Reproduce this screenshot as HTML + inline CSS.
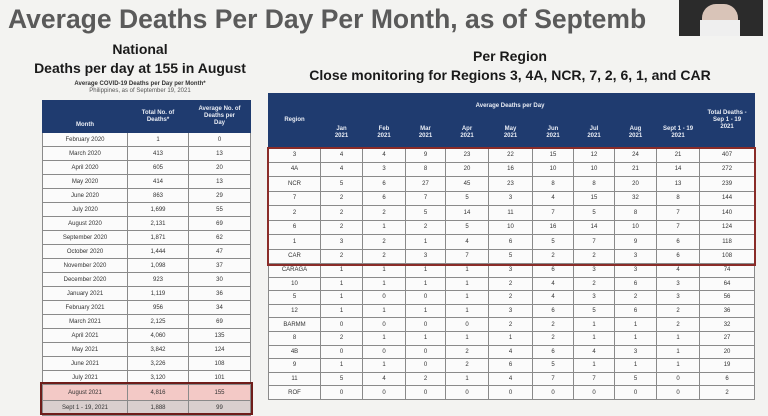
<!DOCTYPE html>
<html><head><meta charset="utf-8"><style>
*{margin:0;padding:0;box-sizing:border-box}
body{width:768px;height:416px;overflow:hidden;background:#f3f3f1;font-family:"Liberation Sans",Arial,sans-serif;position:relative;color:#222}
.a{position:absolute;white-space:nowrap}
table{position:absolute;border-collapse:collapse;table-layout:fixed}
td,th{text-align:center;font-size:6px;border:1px solid #8a8a8a;padding:0;overflow:hidden;white-space:nowrap}
th{background:#1f3b6f;color:#e8ecf4;font-weight:bold;border-color:#1f3b6f;line-height:7px}
td{background:#fbfbfb;color:#333}
</style></head><body>
<div class="a" style="left:8px;top:4px;font-size:26.5px;font-weight:bold;color:#5a5a5a;">Average Deaths Per Day Per Month, as of Septemb</div>
<div class="a" style="left:679px;top:0;width:84px;height:36px;background:#2b2b2b"></div>
<div class="a" style="left:702px;top:4px;width:36px;height:32px;background:#d9c4b8;border-radius:14px 14px 0 0"></div>
<div class="a" style="left:700px;top:20px;width:40px;height:16px;background:#efefef"></div>
<div class="a" style="left:17px;top:40px;width:246px;text-align:center;font-size:14px;font-weight:bold;color:#1a1a1a;line-height:19px">National<br>Deaths per day at 155 in August</div>
<div class="a" style="left:17px;top:81px;width:246px;text-align:center;font-size:6px;font-weight:bold;color:#333">Average COVID-19 Deaths per Day per Month*</div>
<div class="a" style="left:17px;top:88px;width:246px;text-align:center;font-size:6px;color:#555">Philippines, as of September 19, 2021</div>
<div class="a" style="left:280px;top:47px;width:460px;text-align:center;font-size:14px;font-weight:bold;color:#1a1a1a;line-height:19px">Per Region<br>Close monitoring for Regions 3, 4A, NCR, 7, 2, 6, 1, and CAR</div>

<table style="left:42px;top:100px;width:208px">
<colgroup><col style="width:85px"><col style="width:61px"><col style="width:62px"></colgroup>
<tr style="height:32px"><th style="vertical-align:bottom;padding-bottom:3px">Month</th><th>Total No. of<br>Deaths*</th><th>Average No. of<br>Deaths per<br>Day</th></tr>
<tbody style="font-size:6px">
<tr style="height:14px"><td>February 2020</td><td>1</td><td>0</td></tr>
<tr style="height:14px"><td>March 2020</td><td>413</td><td>13</td></tr>
<tr style="height:14px"><td>April 2020</td><td>605</td><td>20</td></tr>
<tr style="height:14px"><td>May 2020</td><td>414</td><td>13</td></tr>
<tr style="height:14px"><td>June 2020</td><td>863</td><td>29</td></tr>
<tr style="height:14px"><td>July 2020</td><td>1,699</td><td>55</td></tr>
<tr style="height:14px"><td>August 2020</td><td>2,131</td><td>69</td></tr>
<tr style="height:14px"><td>September 2020</td><td>1,871</td><td>62</td></tr>
<tr style="height:14px"><td>October 2020</td><td>1,444</td><td>47</td></tr>
<tr style="height:14px"><td>November 2020</td><td>1,098</td><td>37</td></tr>
<tr style="height:14px"><td>December 2020</td><td>923</td><td>30</td></tr>
<tr style="height:14px"><td>January 2021</td><td>1,119</td><td>36</td></tr>
<tr style="height:14px"><td>February 2021</td><td>956</td><td>34</td></tr>
<tr style="height:14px"><td>March 2021</td><td>2,125</td><td>69</td></tr>
<tr style="height:14px"><td>April 2021</td><td>4,060</td><td>135</td></tr>
<tr style="height:14px"><td>May 2021</td><td>3,842</td><td>124</td></tr>
<tr style="height:14px"><td>June 2021</td><td>3,226</td><td>108</td></tr>
<tr style="height:14px"><td>July 2021</td><td>3,120</td><td>101</td></tr>
<tr style="height:16px"><td style="background:#f3c9c6">August 2021</td><td style="background:#f3c9c6">4,816</td><td style="background:#f3c9c6">155</td></tr>
<tr style="height:15px"><td style="background:#d9cfce">Sept 1 - 19, 2021</td><td style="background:#d9cfce">1,888</td><td style="background:#d9cfce">99</td></tr>
</tbody></table>
<div class="a" style="left:40px;top:382px;width:213px;height:33px;border:2px solid #6e1d1a"></div>

<table style="left:268px;top:93px;width:486px">
<colgroup><col style="width:52px"><col style="width:42px"><col style="width:43px"><col style="width:40px"><col style="width:43px"><col style="width:44px"><col style="width:41px"><col style="width:41px"><col style="width:42px"><col style="width:43px"><col style="width:55px"></colgroup>
<tr style="height:25px"><th rowspan="2">Region</th><th colspan="9">Average Deaths per Day</th><th rowspan="2">Total Deaths -<br>Sep 1 - 19<br>2021</th></tr>
<tr style="height:29px"><th>Jan<br>2021</th><th>Feb<br>2021</th><th>Mar<br>2021</th><th>Apr<br>2021</th><th>May<br>2021</th><th>Jun<br>2021</th><th>Jul<br>2021</th><th>Aug<br>2021</th><th>Sept 1 - 19<br>2021</th></tr>
<tr style="height:14.5px"><td>3</td><td>4</td><td>4</td><td>9</td><td>23</td><td>22</td><td>15</td><td>12</td><td>24</td><td>21</td><td>407</td></tr>
<tr style="height:14.5px"><td>4A</td><td>4</td><td>3</td><td>8</td><td>20</td><td>16</td><td>10</td><td>10</td><td>21</td><td>14</td><td>272</td></tr>
<tr style="height:14.5px"><td>NCR</td><td>5</td><td>6</td><td>27</td><td>45</td><td>23</td><td>8</td><td>8</td><td>20</td><td>13</td><td>239</td></tr>
<tr style="height:14.5px"><td>7</td><td>2</td><td>6</td><td>7</td><td>5</td><td>3</td><td>4</td><td>15</td><td>32</td><td>8</td><td>144</td></tr>
<tr style="height:14.5px"><td>2</td><td>2</td><td>2</td><td>5</td><td>14</td><td>11</td><td>7</td><td>5</td><td>8</td><td>7</td><td>140</td></tr>
<tr style="height:14.5px"><td>6</td><td>2</td><td>1</td><td>2</td><td>5</td><td>10</td><td>16</td><td>14</td><td>10</td><td>7</td><td>124</td></tr>
<tr style="height:14.5px"><td>1</td><td>3</td><td>2</td><td>1</td><td>4</td><td>6</td><td>5</td><td>7</td><td>9</td><td>6</td><td>118</td></tr>
<tr style="height:14.5px"><td>CAR</td><td>2</td><td>2</td><td>3</td><td>7</td><td>5</td><td>2</td><td>2</td><td>3</td><td>6</td><td>108</td></tr>
<tr style="height:13.6px"><td>CARAGA</td><td>1</td><td>1</td><td>1</td><td>1</td><td>3</td><td>6</td><td>3</td><td>3</td><td>4</td><td>74</td></tr>
<tr style="height:13.6px"><td>10</td><td>1</td><td>1</td><td>1</td><td>1</td><td>2</td><td>4</td><td>2</td><td>6</td><td>3</td><td>64</td></tr>
<tr style="height:13.6px"><td>5</td><td>1</td><td>0</td><td>0</td><td>1</td><td>2</td><td>4</td><td>3</td><td>2</td><td>3</td><td>56</td></tr>
<tr style="height:13.6px"><td>12</td><td>1</td><td>1</td><td>1</td><td>1</td><td>3</td><td>6</td><td>5</td><td>6</td><td>2</td><td>36</td></tr>
<tr style="height:13.6px"><td>BARMM</td><td>0</td><td>0</td><td>0</td><td>0</td><td>2</td><td>2</td><td>1</td><td>1</td><td>2</td><td>32</td></tr>
<tr style="height:13.6px"><td>8</td><td>2</td><td>1</td><td>1</td><td>1</td><td>1</td><td>2</td><td>1</td><td>1</td><td>1</td><td>27</td></tr>
<tr style="height:13.6px"><td>4B</td><td>0</td><td>0</td><td>0</td><td>2</td><td>4</td><td>6</td><td>4</td><td>3</td><td>1</td><td>20</td></tr>
<tr style="height:13.6px"><td>9</td><td>1</td><td>1</td><td>0</td><td>2</td><td>6</td><td>5</td><td>1</td><td>1</td><td>1</td><td>19</td></tr>
<tr style="height:13.6px"><td>11</td><td>5</td><td>4</td><td>2</td><td>1</td><td>4</td><td>7</td><td>7</td><td>5</td><td>0</td><td>6</td></tr>
<tr style="height:13.6px"><td>ROF</td><td>0</td><td>0</td><td>0</td><td>0</td><td>0</td><td>0</td><td>0</td><td>0</td><td>0</td><td>2</td></tr>
</table>
<div class="a" style="left:267px;top:147px;width:489px;height:119px;border:2px solid #8a2c28"></div>
</body></html>
